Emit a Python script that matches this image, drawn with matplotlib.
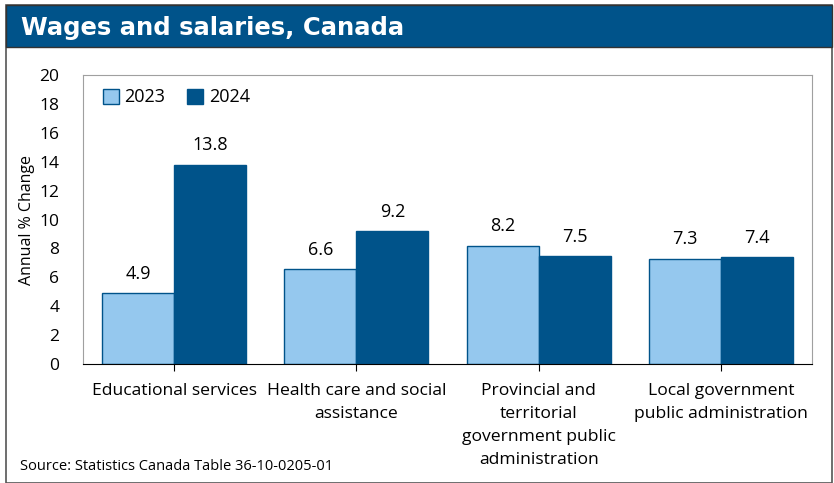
import numpy as np
import matplotlib.pyplot as plt
from matplotlib.patches import Rectangle

# data
categories = ['Educational services', 'Health care and social\nassistance',
              'Provincial and\nterritorial\ngovernment public\nadministration',
              'Local government\npublic administration']
vals_2023 = [4.9, 6.6, 8.2, 7.3]
vals_2024 = [13.8, 9.2, 7.5, 7.4]
series_names = ['2023', '2024']
yticks = list(range(0, 21, 2))

light = '#95C8EE'
dark = '#00538A'
plt.rcParams['font.family'] = ['Open Sans', 'DejaVu Sans']

fig = plt.figure(figsize=(8.34, 4.83), dpi=100)
W, H = 834, 483

# outer frame + title band
fig.patches.append(Rectangle((6 / W, 0), 826 / W, 1 - 5 / H, transform=fig.transFigure,
                             facecolor='none', edgecolor='#555555', linewidth=1.2, zorder=-1))
fig.patches.append(Rectangle((6 / W, 1 - 47 / H), 826 / W, 42 / H, transform=fig.transFigure,
                             facecolor=dark, edgecolor='#333333', linewidth=1.0, zorder=-1))
fig.text(21 / W, 1 - 28 / H, 'Wages and salaries, Canada', color='white', fontsize=17.5,
         fontweight='bold', va='center', ha='left', family='DejaVu Sans')

ax = fig.add_axes([83 / W, 1 - 364 / H, 729 / W, 289 / H])
x = np.arange(len(categories))
w = 0.395
b1 = ax.bar(x - w / 2, vals_2023, w, color=light, edgecolor=dark, linewidth=1.0,
            label=series_names[0])
b2 = ax.bar(x + w / 2, vals_2024, w, color=dark, edgecolor=dark, linewidth=1.0,
            label=series_names[1])
for bars in (b1, b2):
    for r in bars:
        ax.text(r.get_x() + r.get_width() / 2, r.get_height() + 0.7, f'{r.get_height():.1f}',
                ha='center', va='bottom', fontsize=13)

ax.set_xlim(-0.5, len(categories) - 0.5)
ax.set_ylim(0, 20)
ax.set_yticks(yticks)
ax.tick_params(axis='y', length=0, pad=17, labelsize=12.5)
ax.set_xticks(x)
ax.set_xticklabels(categories, fontsize=12.6, linespacing=1.58, va='top')
ax.tick_params(axis='x', length=5, pad=9, direction='out')
for s in ('top', 'right', 'left'):
    ax.spines[s].set_color('#A0A0A0')
ax.spines['bottom'].set_color('black')
ax.set_ylabel('Annual % Change', fontsize=11.5, labelpad=3)

ax.legend(loc='upper left', frameon=False, fontsize=13, ncol=2, handlelength=0.9,
          handleheight=0.9, handletextpad=0.3, columnspacing=1.2,
          bbox_to_anchor=(0.005, 1.01))

fig.text(20 / W, 1 - 467 / H, 'Source: Statistics Canada Table 36-10-0205-01', fontsize=10.5,
         va='center', ha='left')

fig.savefig('out.png', dpi=100)
